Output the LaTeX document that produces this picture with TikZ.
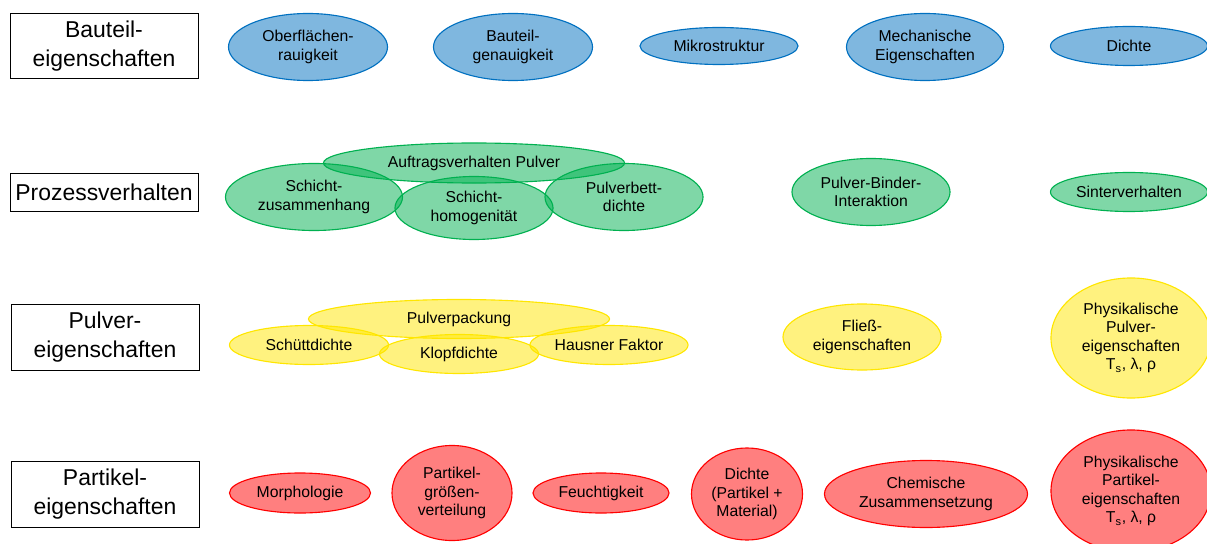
\documentclass[tikz,border=0pt]{standalone}
\usepackage{fontspec}
\setmainfont{Liberation Sans}
\usetikzlibrary{shapes.geometric}
\definecolor{bauteilblue}{HTML}{0070C0}
\definecolor{prozessgreen}{HTML}{00B050}
\definecolor{pulveryellow}{HTML}{FFE600}
\definecolor{partikelred}{HTML}{FF0000}
\tikzset{
  category/.style={draw, thin, align=center, inner sep=0pt, minimum width=188*0.7113pt,
    font=\fontsize{16.3}{20.5}\selectfont},
  prop/.style={ellipse, draw=#1, fill=#1, fill opacity=0.5, text opacity=1, thick,
    inner sep=0pt, align=center, font=\fontsize{11.2}{13.2}\selectfont},
  esize/.style 2 args={minimum width=#1*0.7113pt, minimum height=#2*0.7113pt},
  bauteil/.style={prop=bauteilblue},
  prozess/.style={prop=prozessgreen},
  pulver/.style={prop=pulveryellow},
  partikel/.style={prop=partikelred}
}
\begin{document}
\begin{tikzpicture}[x=0.025cm, y=-0.025cm]
  \useasboundingbox (0,0) rectangle (1207,544);
  % left column
  \node[category, minimum height=65*0.7113pt] (bauteil) at (104,46) {Bauteil-\\eigenschaften};
  \node[category, minimum height=38*0.7113pt] (prozess) at (104,192) {Prozessverhalten};
  \node[category, minimum height=66*0.7113pt] (pulver) at (105,337) {Pulver-\\eigenschaften};
  \node[category, minimum height=66*0.7113pt] (partikel) at (105,494) {Partikel-\\eigenschaften};
  % Bauteileigenschaften
  \node[bauteil, esize={159}{67}] (rauigkeit) at (308,47) {Oberflächen-\\rauigkeit};
  \node[bauteil, esize={159}{67}] (genauigkeit) at (513,47) {Bauteil-\\genauigkeit};
  \node[bauteil, esize={158}{37}] (mikro) at (719,46) {Mikrostruktur};
  \node[bauteil, esize={157}{67}] (mechanik) at (925,47) {Mechanische\\Eigenschaften};
  \node[bauteil, esize={157}{39}] (dichte) at (1129,46) {Dichte};
  % Prozessverhalten
  \node[prozess, esize={301}{40}] (auftrag) at (474,163) {Auftragsverhalten Pulver};
  \node[prozess, esize={177}{67}] (zusammenhang) at (314,197) {Schicht-\\zusammenhang};
  \node[prozess, esize={158}{63}] (homogen) at (474,208) {Schicht-\\homogenität};
  \node[prozess, esize={158}{67}] (bettdichte) at (624,197) {Pulverbett-\\dichte};
  \node[prozess, esize={158}{67}] (binder) at (871,192) {Pulver-Binder-\\Interaktion};
  \node[prozess, esize={157}{39}] (sintern) at (1129,192) {Sinterverhalten};
  % Pulvereigenschaften
  \node[pulver, esize={301}{39}] (packung) at (459,319) {Pulverpackung};
  \node[pulver, esize={159}{39}] (schuett) at (309,345) {Schüttdichte};
  \node[pulver, esize={159}{39}] (klopf) at (459,354) {Klopfdichte};
  \node[pulver, esize={158}{39}] (hausner) at (609,345) {Hausner Faktor};
  \node[pulver, esize={158}{66}] (fliess) at (862,337) {Fließ-\\eigenschaften};
  \node[pulver, esize={160}{120}] (physpulver) at (1131,338) {Physikalische\\Pulver-\\eigenschaften\\T\textsubscript{s}, λ, ρ};
  % Partikeleigenschaften
  \node[partikel, esize={141}{40}] (morph) at (300,493) {Morphologie};
  \node[partikel, esize={120}{95}] (groesse) at (452,493) {Partikel-\\größen-\\verteilung};
  \node[partikel, esize={136}{40}] (feucht) at (601,493) {Feuchtigkeit};
  \node[partikel, esize={111}{92}] (pdichte) at (747,494) {Dichte\\(Partikel +\\Material)};
  \node[partikel, esize={203}{67}] (chemie) at (926,494) {Chemische\\Zusammensetzung};
  \node[partikel, esize={160}{122}] (physpartikel) at (1131,491) {Physikalische\\Partikel-\\eigenschaften\\T\textsubscript{s}, λ, ρ};
\end{tikzpicture}
\end{document}
